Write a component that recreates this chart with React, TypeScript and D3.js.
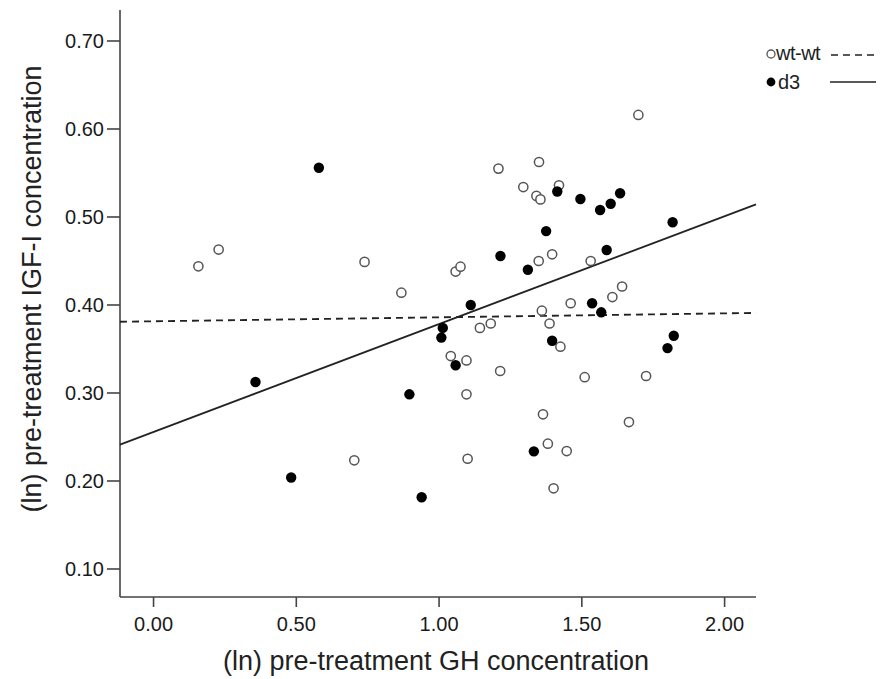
import React, { useEffect, useRef } from 'react';
import * as d3 from 'd3';

// wt-wt group (open circles)
const wtX = [0.157, 0.228, 0.703, 0.739, 0.868, 1.041, 1.058, 1.075, 1.096, 1.096, 1.100, 1.143, 1.181,
    1.208, 1.214, 1.295, 1.341, 1.349, 1.350, 1.355, 1.360, 1.364, 1.381, 1.387, 1.396, 1.401, 1.420,
    1.425, 1.447, 1.461, 1.510, 1.531, 1.607, 1.641, 1.665, 1.698, 1.725];
const wtY = [0.444, 0.463, 0.2235, 0.449, 0.414, 0.342, 0.438, 0.4435, 0.337, 0.2985, 0.2253, 0.374, 0.379,
    0.555, 0.325, 0.534, 0.524, 0.450, 0.5625, 0.520, 0.3935, 0.2758, 0.2424, 0.379, 0.4576, 0.1917, 0.536,
    0.3526, 0.234, 0.402, 0.318, 0.450, 0.409, 0.421, 0.267, 0.616, 0.3193];

// d3 group (filled circles)
const d3X = [0.357, 0.482, 0.579, 0.896, 0.939, 1.008, 1.013, 1.058, 1.111, 1.215, 1.311, 1.332, 1.375,
    1.396, 1.414, 1.495, 1.536, 1.564, 1.568, 1.587, 1.601, 1.634, 1.800, 1.818, 1.822];
const d3Y = [0.3125, 0.204, 0.556, 0.2985, 0.1815, 0.363, 0.374, 0.3315, 0.400, 0.4557, 0.440, 0.2337, 0.484,
    0.3594, 0.529, 0.5205, 0.402, 0.508, 0.3917, 0.4625, 0.515, 0.527, 0.351, 0.494, 0.365];

// fit lines: [intercept, slope]
const wtFit = [0.3815, 0.0045];
const d3Fit = [0.2557, 0.1226];

const xTicks = [0, 0.5, 1, 1.5, 2];
const yTicks = [0.1, 0.2, 0.3, 0.4, 0.5, 0.6, 0.7];

const App = () => {
    const ref = useRef<HTMLDivElement>(null);

    useEffect(() => {
        const root = d3.select(ref.current);
        root.selectAll('*').remove();
        const svg = root.append('svg')
            .attr('width', 880).attr('height', 679)
            .style('position', 'absolute').style('left', 0).style('top', 0)
            .style('font-family', '"Liberation Sans", Arial, sans-serif');

        const xDom = [-0.1175, 2.11];
        const x = d3.scaleLinear().domain(xDom).range([120, 756]);
        const y = d3.scaleLinear().domain([0.7, 0.1]).range([41, 569]);
        const yTop = y.invert(10);
        const yBot = y.invert(597);

        // axes
        const ax = svg.append('g').attr('stroke', '#444').attr('stroke-width', 1.6);
        ax.append('line').attr('x1', x(xDom[0])).attr('x2', x(xDom[0])).attr('y1', y(yTop)).attr('y2', y(yBot));
        ax.append('line').attr('x1', x(xDom[0])).attr('x2', x(xDom[1])).attr('y1', y(yBot)).attr('y2', y(yBot));

        yTicks.forEach(t => {
            ax.append('line').attr('x1', x(xDom[0]) - 13).attr('x2', x(xDom[0])).attr('y1', y(t)).attr('y2', y(t));
            svg.append('text').attr('x', x(xDom[0]) - 16).attr('y', y(t)).attr('dy', '0.36em')
                .attr('text-anchor', 'end').attr('font-size', 20).attr('fill', '#1a1a1a').text(t.toFixed(2));
        });
        xTicks.forEach(t => {
            ax.append('line').attr('x1', x(t)).attr('x2', x(t)).attr('y1', y(yBot)).attr('y2', y(yBot) + 10);
            svg.append('text').attr('x', x(t)).attr('y', y(yBot) + 34)
                .attr('text-anchor', 'middle').attr('font-size', 20).attr('fill', '#1a1a1a').text(t.toFixed(2));
        });

        svg.append('text').attr('x', 436).attr('y', 670).attr('text-anchor', 'middle')
            .attr('font-size', 27).attr('fill', '#222').text('(ln) pre-treatment GH concentration');
        svg.append('text').attr('transform', 'translate(41,289) rotate(-90)').attr('text-anchor', 'middle')
            .attr('font-size', 27).attr('fill', '#222').text('(ln) pre-treatment IGF-I concentration');

        // fit lines
        const fitPath = (f: number[]) => d3.line<number>().x(d => x(d)).y(d => y(f[0] + f[1] * d))(xDom);
        svg.append('path').attr('d', fitPath(wtFit)).attr('fill', 'none').attr('stroke', '#222')
            .attr('stroke-width', 1.8).attr('stroke-dasharray', '7,5');
        svg.append('path').attr('d', fitPath(d3Fit)).attr('fill', 'none').attr('stroke', '#222')
            .attr('stroke-width', 1.8);

        // points
        svg.append('g').selectAll('circle').data(wtX).enter().append('circle')
            .attr('cx', d => x(d)).attr('cy', (d, i) => y(wtY[i])).attr('r', 4.6)
            .attr('fill', 'white').attr('stroke', '#555').attr('stroke-width', 1.5);
        svg.append('g').selectAll('circle').data(d3X).enter().append('circle')
            .attr('cx', d => x(d)).attr('cy', (d, i) => y(d3Y[i])).attr('r', 5.2)
            .attr('fill', '#000');

        // legend
        const lg = svg.append('g');
        lg.append('circle').attr('cx', 771).attr('cy', 54).attr('r', 4).attr('fill', 'white')
            .attr('stroke', '#555').attr('stroke-width', 1.3);
        lg.append('text').attr('x', 776).attr('y', 60).attr('font-size', 20).attr('fill', '#222')
            .attr('letter-spacing', -0.5).text('wt-wt');
        lg.append('line').attr('x1', 831).attr('x2', 877).attr('y1', 55).attr('y2', 55)
            .attr('stroke', '#222').attr('stroke-width', 1.5).attr('stroke-dasharray', '7,5');
        lg.append('circle').attr('cx', 771).attr('cy', 82).attr('r', 4.4).attr('fill', '#000');
        lg.append('text').attr('x', 778).attr('y', 89).attr('font-size', 20).attr('fill', '#222').text('d3');
        lg.append('line').attr('x1', 830).attr('x2', 876).attr('y1', 82).attr('y2', 82)
            .attr('stroke', '#222').attr('stroke-width', 1.5);
    }, []);

    return <div ref={ref}></div>;
};

export default App;
